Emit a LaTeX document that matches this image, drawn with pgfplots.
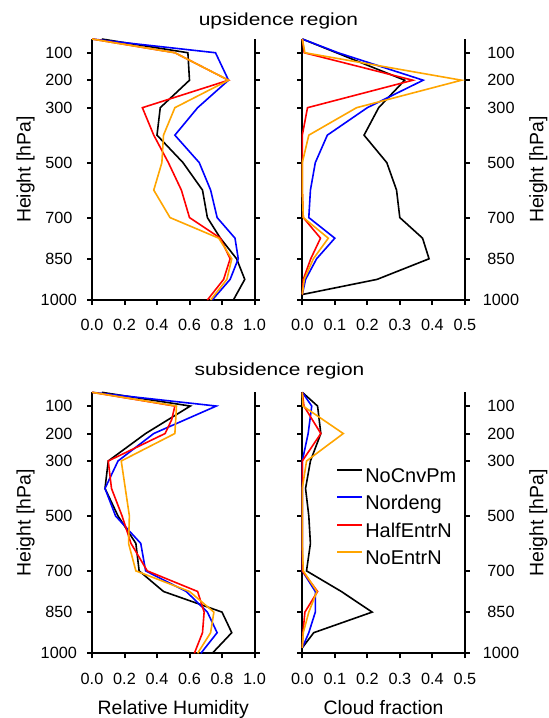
\documentclass[border=0pt]{standalone}
\usepackage{fontspec}
\setmainfont{Liberation Sans}
\newfontfamily\titlefam{Liberation Sans}[FakeStretch=1.2]
\usepackage{pgfplots}
\pgfplotsset{compat=1.18}
\definecolor{ncorange}{RGB}{255,165,0}
\newcommand{\lstrut}{\rule[-4bp]{0pt}{18bp}}

\pgfplotsset{
  prof/.style={
    scale only axis, width=162.5bp, height=261bp,
    y dir=reverse, ymin=50, ymax=1000,
    ytick={100,200,300,500,700,850,1000},
    axis x line*=bottom, axis y line*=box,
    tick align=outside, major tick length=5bp,
    axis line style={line width=2bp},
    tick style={line width=2bp, black},
    tick label style={font=\fontsize{16.3}{18}\selectfont},
    /pgf/number format/assume math mode=true,
    /pgf/number format/1000 sep={},
    x tick label style={/pgf/number format/.cd, fixed, fixed zerofill, precision=1, /tikz/.cd},
    xticklabel style={anchor=base, yshift=-25.7bp},
    clip=false,
    xlabel style={at={(axis description cs:0.5,0)}, anchor=base, yshift=-60.7bp,
      font=\fontsize{19.5}{22}\selectfont},
  },
  lprof/.style={prof, xmin=0, xmax=1, xtick={0,0.2,0.4,0.6,0.8,1},
    ylabel={Height [hPa]},
    yticklabel style={anchor=east, text width=38bp, align=center, inner sep=0pt, xshift=-9bp},
    every axis y label/.style={at={(axis description cs:0,0.5)}, xshift=-61.3bp, rotate=90,
      anchor=base, font=\fontsize{19.5}{22}\selectfont}},
  rprof/.style={prof, xmin=0, xmax=0.5, xtick={0,0.1,0.2,0.3,0.4,0.5},
    yticklabel pos=right, ylabel={Height [hPa]},
    yticklabel style={anchor=west, text width=38bp, align=center, inner sep=0pt, xshift=12bp},
    every axis y label/.style={at={(axis description cs:1,0.5)}, xshift=78.5bp, rotate=90,
      anchor=base, font=\fontsize{19.5}{22}\selectfont}},
}

\begin{document}
\begin{tikzpicture}
\path[use as bounding box] (0,0) rectangle (549bp,718bp);

\node[font=\titlefam\fontsize{17.5}{20}\selectfont, anchor=base] at (278.5bp,692bp) {upsidence region};
\node[font=\titlefam\fontsize{17.5}{20}\selectfont, anchor=base] at (279.5bp,342bp) {subsidence region};

% upsidence, relative humidity
\begin{axis}[lprof, at={(92bp,418bp)}, anchor=south west]
\addplot[black, line width=1.6bp] coordinates {(0.06,50)(0.59,100)(0.60,200)(0.42,300)(0.40,400)(0.56,500)(0.68,600)(0.71,700)(0.79,775)(0.89,850)(0.94,925)(0.87,1000)};
\addplot[blue, line width=1.6bp] coordinates {(0,50)(0.76,100)(0.84,200)(0.65,300)(0.51,400)(0.66,500)(0.73,600)(0.77,700)(0.88,775)(0.90,850)(0.85,925)(0.74,1000)};
\addplot[red, line width=1.6bp] coordinates {(0,50)(0.51,100)(0.84,200)(0.31,300)(0.38,400)(0.47,500)(0.55,600)(0.60,700)(0.79,775)(0.85,850)(0.81,925)(0.71,1000)};
\addplot[ncorange, line width=1.6bp] coordinates {(0,50)(0.51,100)(0.84,200)(0.51,300)(0.44,400)(0.43,500)(0.38,600)(0.48,700)(0.78,775)(0.86,850)(0.83,925)(0.73,1000)};
\end{axis}

% upsidence, cloud fraction
\begin{axis}[rprof, at={(302.3bp,418bp)}, anchor=south west]
\addplot[black, line width=1.6bp] coordinates {(0,50)(0.105,100)(0.315,200)(0.235,300)(0.19,400)(0.26,500)(0.29,600)(0.30,700)(0.37,775)(0.39,850)(0.23,925)(0,980)};
\addplot[blue, line width=1.6bp] coordinates {(0,50)(0.11,100)(0.372,200)(0.20,300)(0.077,400)(0.04,500)(0.025,600)(0.02,700)(0.10,775)(0.044,850)(0.01,925)(0,980)};
\addplot[red, line width=1.6bp] coordinates {(0,50)(0.006,100)(0.34,200)(0.016,300)(0,400)(0,500)(0,600)(0.003,700)(0.056,775)(0.026,850)(0.003,925)(0,980)};
\addplot[ncorange, line width=1.6bp] coordinates {(0,50)(0.008,100)(0.49,200)(0.167,300)(0.02,400)(0,500)(0,600)(0.003,700)(0.08,775)(0.034,850)(0.006,925)(0,980)};
\end{axis}

% subsidence, relative humidity
\begin{axis}[lprof, at={(92bp,64.7bp)}, anchor=south west, xlabel={Relative Humidity}]
\addplot[black, line width=1.6bp] coordinates {(0.06,50)(0.605,100)(0.33,200)(0.10,300)(0.08,400)(0.16,500)(0.27,600)(0.29,700)(0.44,775)(0.80,850)(0.86,925)(0.74,1000)};
\addplot[blue, line width=1.6bp] coordinates {(0,50)(0.765,100)(0.38,200)(0.16,300)(0.08,400)(0.145,500)(0.30,600)(0.33,700)(0.58,775)(0.71,850)(0.77,925)(0.67,1000)};
\addplot[red, line width=1.6bp] coordinates {(0,50)(0.51,100)(0.49,150)(0.45,200)(0.10,300)(0.12,400)(0.185,500)(0.24,600)(0.34,700)(0.65,775)(0.69,850)(0.68,925)(0.63,1000)};
\addplot[ncorange, line width=1.6bp] coordinates {(0,50)(0.52,100)(0.51,200)(0.18,300)(0.205,400)(0.23,500)(0.225,600)(0.27,700)(0.60,775)(0.75,850)(0.73,925)(0.65,1000)};
\end{axis}

% subsidence, cloud fraction
\begin{axis}[rprof, at={(302.3bp,64.7bp)}, anchor=south west, xlabel={Cloud fraction},
  legend style={draw=none, fill=none, at={(0.19,0.725)}, anchor=north west,
    font=\fontsize{20}{22}\selectfont, row sep=7.5bp},
  legend cell align=left,
  legend image post style={xscale=1.47, yshift=6bp, line width=2bp}]
\addplot[black, line width=1.6bp] coordinates {(0,50)(0.047,100)(0.057,200)(0.025,300)(0.01,400)(0.02,500)(0.025,600)(0.013,700)(0.12,775)(0.215,850)(0.035,925)(0,980)};
\addlegendentry{\lstrut NoCnvPm}
\addplot[blue, line width=1.6bp] coordinates {(0,50)(0.029,100)(0.018,200)(0,300)(0,400)(0,500)(0,600)(0,700)(0.04,775)(0.04,850)(0.02,925)(0,980)};
\addlegendentry{\lstrut Nordeng}
\addplot[red, line width=1.6bp] coordinates {(0,50)(0.005,100)(0.057,200)(0,300)(0,400)(0,500)(0,600)(0,700)(0.047,775)(0.008,850)(0.002,925)(0,980)};
\addlegendentry{\lstrut HalfEntrN}
\addplot[ncorange, line width=1.6bp] coordinates {(0,50)(0.002,100)(0.126,200)(0.013,300)(0,400)(0,500)(0,600)(0.003,700)(0.045,775)(0.02,850)(0.003,925)(0,980)};
\addlegendentry{\lstrut NoEntrN}
\end{axis}
\end{tikzpicture}
\end{document}
